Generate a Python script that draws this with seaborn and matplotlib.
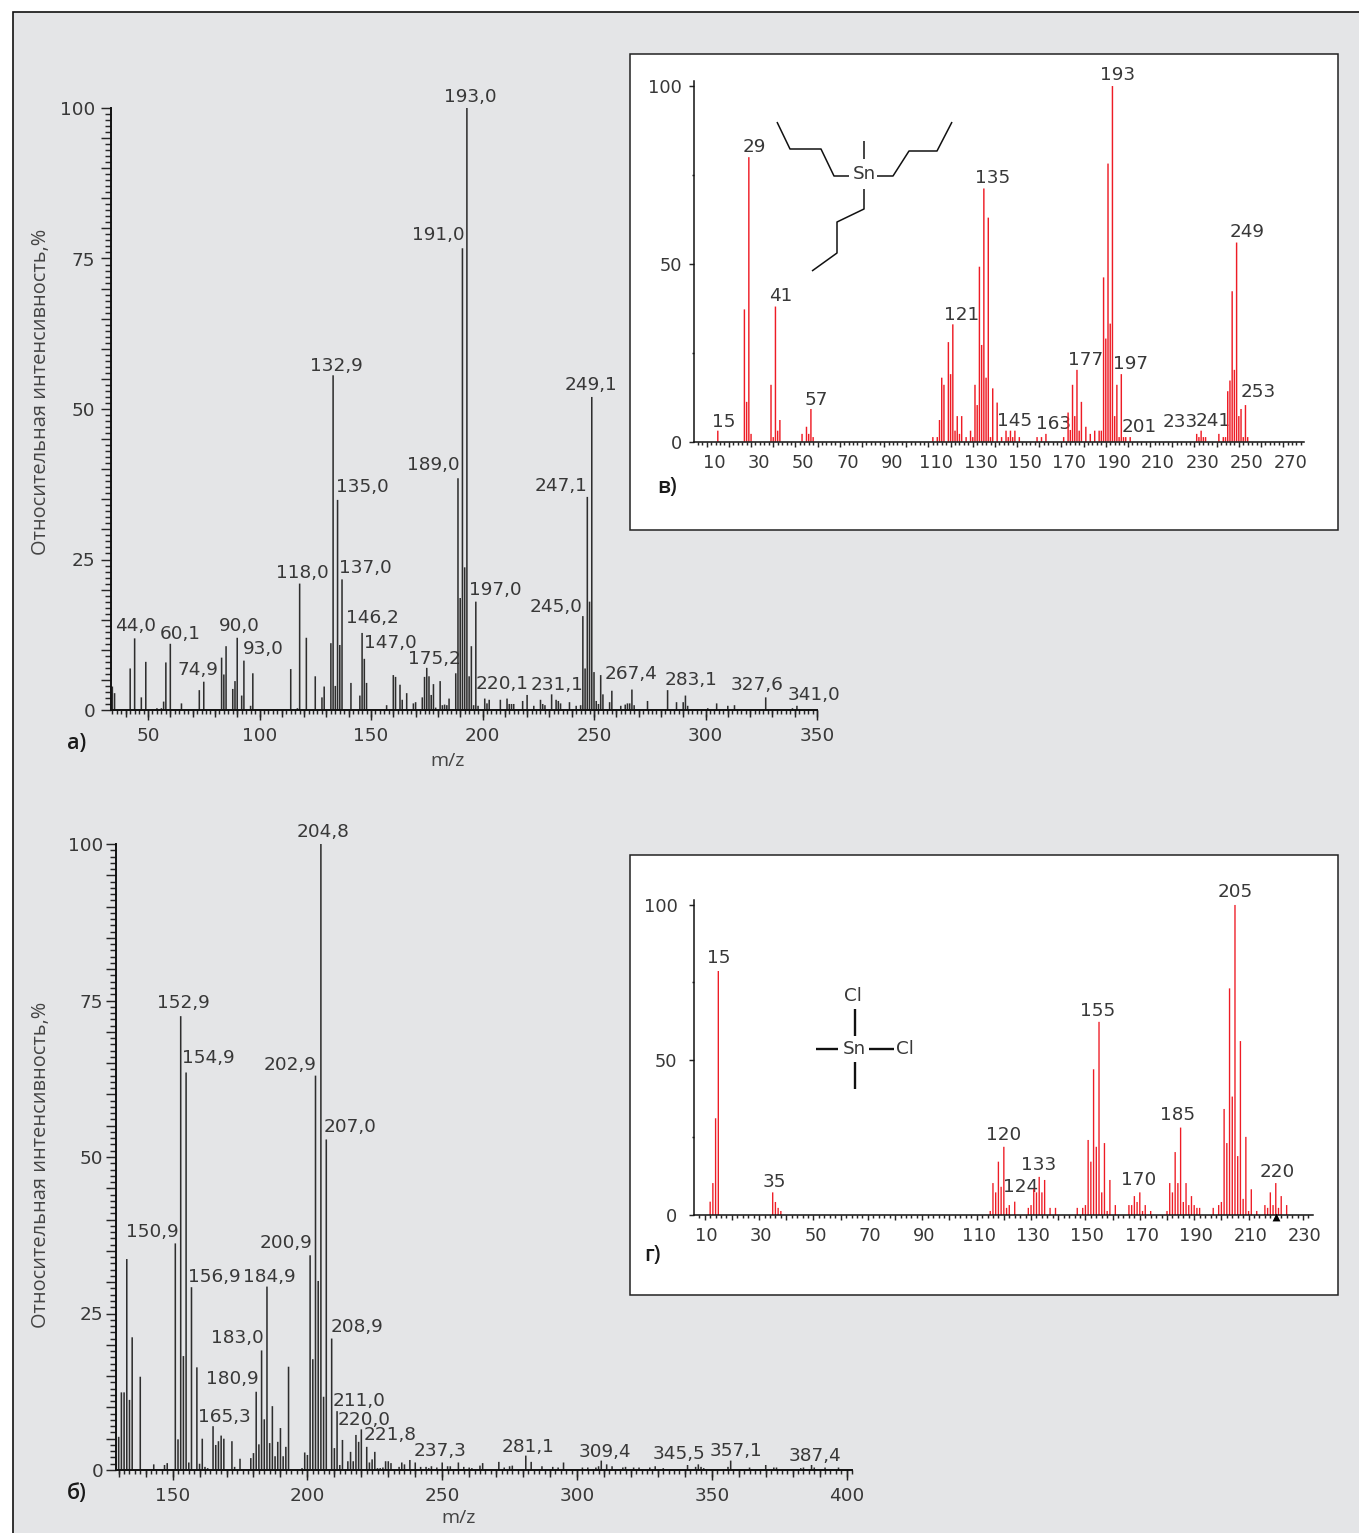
"""Mass spectra of tributyltin and dimethyltin compounds, four panels."""

from matplotlib import pyplot as plt
from matplotlib.patches import Rectangle
from matplotlib.ticker import FixedLocator, MultipleLocator
from matplotlib.transforms import ScaledTranslation
import seaborn as sns

WIDTH, HEIGHT = 1359, 1533

# panel a) measured spectrum
a_mz = [34, 35, 42, 44, 47, 49, 54, 56, 57, 58, 60, 65, 73, 75, 83, 84, 85, 88, 89, 90,
        92, 93, 96, 97, 114, 117, 118, 121, 125, 128, 129, 132, 133, 134, 135, 136, 137,
        141, 145, 146, 147, 148, 157, 160, 161, 163, 164, 166, 169, 170, 173, 174, 175,
        176, 177, 178, 179, 181, 182, 183, 184, 185, 188, 189, 190, 191, 192, 193, 194,
        195, 196, 197, 198, 201, 202, 203, 208, 211, 212, 213, 214, 218, 220, 223, 226,
        227, 228, 231, 233, 234, 235, 239, 242, 244, 245, 246, 247, 248, 249, 250, 251,
        252, 253, 254, 257, 258, 262, 264, 265, 266, 267, 268, 274, 283, 287, 290, 291,
        292, 301, 305, 310, 313, 327, 339, 341]
a_int = [3.9, 2.8, 6.9, 11.9, 2.1, 8, 0.3, 0.3, 1.4, 7.9, 11, 1.1, 3.3, 4.7, 8.7, 5.9, 10.6,
         3.5, 4.8, 12, 2.4, 8.2, 0.7, 6.1, 6.8, 0.3, 21, 12, 5.6, 2.1, 3.9, 11.1, 55.6, 4,
         34.9, 10.8, 21.7, 4.5, 2.4, 12.8, 8.5, 4.5, 0.8, 5.8, 5.5, 4.2, 1.7, 2.8, 1.1, 1.3,
         2.1, 5.5, 7, 5.6, 2.5, 4.3, 0.4, 4.8, 0.8, 0.9, 0.8, 1.9, 6.1, 38.5, 18.6, 76.7,
         23.7, 100, 5.6, 10.6, 0.8, 18, 0.7, 1.9, 1.1, 1.7, 1.7, 1.9, 1, 1, 1, 1.5, 2.5,
         0.7, 1.7, 1, 0.8, 2.6, 1.7, 1.5, 1.1, 1.3, 0.7, 0.8, 15.6, 6.9, 35.4, 18, 52, 6.3,
         1.5, 1, 5.8, 2.6, 1.3, 3.2, 0.7, 0.9, 1.1, 1.1, 3.4, 0.8, 1.5, 3.3, 1.3, 1.3, 2.4,
         0.7, 0.3, 1.1, 0.7, 0.8, 2.1, 0.3, 0.7]
a_labels = ["193,0", "191,0", "132,9", "249,1", "135,0", "189,0", "247,1", "118,0", "137,0",
            "245,0", "197,0", "146,2", "147,0", "44,0", "60,1", "90,0", "93,0", "74,9",
            "175,2", "220,1", "231,1", "267,4", "283,1", "327,6", "341,0"]
a_label_px = [(470, 97), (438, 235), (336, 366), (591, 385), (362, 487), (433, 465), (561, 486),
              (302, 573), (365, 568), (556, 607), (495, 590), (372, 618), (390, 643), (136, 626),
              (180, 634), (239, 626), (263, 649), (198, 670), (434, 659), (502, 684), (557, 685),
              (631, 674), (691, 680), (757, 685), (814, 695)]

# panel b) measured spectrum
b_mz = [130, 131, 132, 133, 134, 135, 138, 143, 147, 148, 151, 152, 153, 154, 155, 156, 157,
        159, 160, 161, 162, 163, 165, 166, 167, 168, 169, 172, 173, 175, 179, 180, 181, 182,
        183, 184, 185, 186, 187, 188, 189, 190, 191, 192, 193, 198, 199, 200, 201, 202, 203,
        204, 205, 206, 207, 209, 210, 211, 212, 213, 215, 216, 217, 218, 219, 220, 222, 223,
        224, 225, 226, 227, 228, 229, 230, 231, 234, 235, 236, 238, 240, 242, 244, 245, 246,
        248, 250, 252, 253, 256, 258, 260, 261, 264, 265, 271, 273, 275, 276, 281, 283, 287,
        291, 293, 295, 302, 304, 307, 308, 309, 311, 313, 317, 318, 321, 323, 327, 329, 332,
        341, 344, 345, 346, 347, 356, 357, 364, 370, 373, 374, 383, 384, 387, 388, 392, 397]
b_int = [5.3, 12.4, 12.4, 33.7, 11.2, 21.2, 14.9, 0.9, 0.8, 1.1, 36.2, 4.9, 72.5, 18.2, 63.5,
         1.2, 29.2, 16.4, 1, 5, 0.5, 0.3, 7, 4, 4.6, 5.5, 5, 4.6, 0.5, 1.8, 1.9, 2.7, 12.5,
         4.1, 19.1, 8.1, 29.3, 4.3, 10.2, 2.2, 4.5, 6.7, 2.2, 3.7, 16.5, 0.3, 2.8, 2.4, 34.3,
         17.7, 63, 30.2, 100, 11.7, 52.8, 21, 3.5, 9.4, 0.8, 4.8, 1.4, 2.9, 1.4, 5.6, 4.5,
         6.5, 3.7, 1.2, 1.7, 2.9, 0.3, 0.3, 0.4, 1.4, 1.4, 1.1, 0.5, 1.2, 0.9, 1.6, 1.2, 0.5,
         0.5, 0.3, 0.6, 0.4, 1.2, 0.6, 0.6, 1.2, 0.5, 0.4, 0.3, 0.7, 1.1, 1.3, 0.4, 0.6, 0.7,
         2.3, 1.3, 0.6, 0.5, 0.4, 1.2, 0.4, 0.4, 0.4, 0.6, 1.5, 0.9, 0.6, 0.4, 0.5, 0.4, 0.4,
         0.4, 0.6, 0.3, 0.8, 0.5, 0.9, 0.5, 0.3, 0.5, 1.5, 0.4, 0.8, 0.4, 0.4, 0.3, 0.4, 0.8,
         0.4, 0.4, 0.4]
b_labels = ["204,8", "152,9", "154,9", "202,9", "207,0", "150,9", "200,9", "156,9", "184,9",
            "208,9", "183,0", "180,9", "211,0", "165,3", "220,0", "221,8", "237,3", "281,1",
            "309,4", "345,5", "357,1", "387,4"]
b_label_px = [(323, 832), (183, 1003), (208, 1058), (290, 1065), (350, 1127), (152, 1232),
              (286, 1243), (214, 1277), (269, 1277), (357, 1327), (237, 1338), (232, 1379),
              (359, 1401), (224, 1417), (364, 1420), (390, 1435), (440, 1451), (528, 1447),
              (605, 1452), (679, 1454), (736, 1451), (815, 1456)]

# panel v) library spectrum, tributyltin
c_mz = [15, 27, 28, 29, 30, 39, 40, 41, 42, 43, 53, 55, 56, 57, 58, 112, 114, 115, 116, 117,
        119, 120, 121, 122, 123, 124, 125, 127, 129, 130, 131, 132, 133, 134, 135, 136, 137,
        138, 139, 141, 143, 145, 146, 147, 148, 149, 151, 159, 161, 163, 171, 173, 174, 175,
        176, 177, 178, 179, 181, 183, 185, 187, 188, 189, 190, 191, 192, 193, 194, 195, 196,
        197, 198, 199, 201, 231, 232, 233, 234, 235, 241, 243, 244, 245, 246, 247, 248, 249,
        250, 251, 252, 253, 254]
c_int = [3.1, 37.2, 11.2, 80, 2.2, 16, 1.3, 38, 3.1, 6.1, 2.2, 4.2, 2.2, 9.2, 1.3, 1.3, 1.3,
         6.1, 18, 16, 28, 19, 33, 3.1, 7.2, 2.2, 7.2, 1.3, 3.1, 1.3, 16, 10.3, 49.2, 27.2,
         71.2, 18, 63, 1.3, 15, 11, 1.3, 3.1, 1.3, 3.1, 1.3, 3.1, 1.3, 1.3, 1.3, 2.2, 1.3,
         8.2, 3.3, 16, 7.2, 20.2, 3.1, 11.2, 4.2, 2.2, 3.1, 3.1, 3.1, 46.2, 29, 78.2, 33.2,
         100, 7.2, 16, 1.3, 19, 1.3, 1.3, 1.3, 2.2, 1.3, 3.1, 1.3, 1.3, 2.2, 1.3, 1.3, 14.2,
         17.2, 42.3, 20.2, 56, 7.2, 9.2, 1.3, 10.3, 1.3]
c_labels = ["193", "29", "135", "249", "41", "121", "177", "197", "57", "253", "15", "145",
            "163", "201", "233", "241"]
c_label_px = [(1118, 75), (754, 147), (993, 178), (1247, 232), (781, 296), (962, 315), (1086, 360),
              (1131, 364), (816, 400), (1258, 392), (724, 422), (1015, 421), (1054, 424),
              (1139, 427), (1180, 422), (1213, 421)]

# panel g) library spectrum, trichloromethyltin
d_mz = [12, 13, 14, 15, 35, 36, 37, 38, 115, 116, 117, 118, 119, 120, 121, 122, 124, 129, 130,
        131, 132, 133, 134, 135, 137, 139, 147, 149, 150, 151, 152, 153, 154, 155, 156, 157,
        158, 159, 161, 166, 167, 168, 169, 170, 171, 172, 174, 180, 181, 182, 183, 184, 185,
        186, 187, 188, 189, 190, 191, 192, 197, 199, 200, 201, 202, 203, 204, 205, 206, 207,
        208, 209, 210, 211, 213, 216, 217, 218, 219, 220, 221, 222, 224]
d_int = [4.3, 10.3, 31.2, 78.7, 7.3, 4.2, 2.3, 1.3, 1.3, 10.3, 7.3, 17.2, 9.1, 22, 2.3, 3.2,
         4.3, 2.3, 3.2, 8.4, 7.3, 12.3, 7.3, 11.3, 2.3, 2.3, 2.3, 2.3, 3.2, 24.2, 17.2, 47,
         22, 62.3, 7.3, 23.2, 1.3, 11.3, 3.2, 3.2, 3.2, 6.1, 4.2, 7.3, 1.3, 3.2, 1.3, 1.3,
         10.3, 7.3, 20.3, 10.3, 28.2, 4.2, 10.3, 3.2, 6.1, 3.2, 2.3, 2.3, 2.3, 3.2, 4.2, 34.2,
         23.2, 73.1, 38.2, 100, 19, 56.1, 5.2, 25.2, 1.3, 8.3, 1.3, 3.2, 2.3, 7.3, 3.2, 10.3,
         2.3, 6.1, 3.2]
d_labels = ["205", "15", "155", "120", "185", "133", "170", "124", "35", "220"]
d_label_px = [(1235, 892), (719, 958), (1098, 1011), (1004, 1135), (1178, 1115), (1039, 1165),
              (1139, 1180), (1021, 1187), (774, 1182), (1277, 1172)]
d_marker_mz = [220]
d_marker_y = [-0.8]

# structure formulas, drawn in picture pixels
tributyl_chains = [
    [(777, 122), (790, 149), (821, 149), (834, 176), (849, 176)],
    [(864, 141), (864, 159)],
    [(877, 176), (893, 176), (909, 151), (937, 151), (952, 122)],
    [(864, 189), (864, 209), (837, 222), (837, 253), (812, 271)],
]
chloride_bonds = [
    [(855, 1009), (855, 1036)],
    [(816, 1049), (838, 1049)],
    [(869, 1049), (894, 1049)],
    [(855, 1062), (855, 1089)],
]

BACKGROUND = "#e4e5e7"
BLACK_BAR = "#2e2e2e"
RED_BAR = "#ee1c25"
TEXT = "#383838"
NUM_SIZE = 13.3
INSET_NUM_SIZE = 12.8
SANS = "Open Sans"
TICK_WIDTH = 1.05


def add_panel(fig, box, xlim, ylim, mz, intensity, color, bar_width):
    """Adds axes at a pixel box (left, right, top, bottom) and draws the bar spectrum."""
    left, right, top, bottom = box
    ax = fig.add_axes([left / WIDTH, 1 - bottom / HEIGHT, (right - left) / WIDTH, (bottom - top) / HEIGHT])
    ax.patch.set_alpha(0)
    sns.barplot(x=mz, y=intensity, color=color, width=bar_width, linewidth=0, saturation=1,
                native_scale=True, errorbar=None, ax=ax)
    for bar in ax.patches:
        bar.set_snap(False)  # keeps thin bars at one width instead of 1 or 2 pixels
    ax.set_xlim(*xlim)
    ax.set_ylim(*ylim)
    ax.set_xlabel("")
    ax.set_ylabel("")
    sns.despine(ax=ax)
    ax.spines[["left", "bottom"]].set_linewidth(1.4)
    ax.spines[["left", "bottom"]].set_color("#111111")
    return ax


def style_main_axis(ax, xticks, size, y_pad):
    """Long ticks on labelled m/z, medium each 10, short each 2; y ticks each 5 and 1."""
    ax.set_xticks(xticks, [str(v) for v in xticks])
    ax.xaxis.set_minor_locator(MultipleLocator(2))
    ax.tick_params(axis="x", which="major", length=7, width=TICK_WIDTH, pad=5, labelsize=size, labelcolor=TEXT)
    ax.tick_params(axis="x", which="minor", length=2.6, width=TICK_WIDTH)

    sec = ax.secondary_xaxis("bottom")
    sec.xaxis.set_major_locator(MultipleLocator(10))
    sec.tick_params(axis="x", length=5, width=TICK_WIDTH, labelbottom=False)
    sec.spines["bottom"].set_visible(False)

    y_major = list(range(0, 101, 5))
    ax.set_yticks(y_major, [str(v) if v % 25 == 0 else "" for v in y_major])
    ax.yaxis.set_minor_locator(MultipleLocator(1))
    ax.tick_params(axis="y", which="major", length=7.5, width=TICK_WIDTH, pad=y_pad, labelsize=size, labelcolor=TEXT)
    ax.tick_params(axis="y", which="minor", length=4.6, width=TICK_WIDTH)


def style_inset_axis(ax, first_tick, last_tick, label_shift, y_pad):
    """Inset axes: ticks each 10, labels each 20 nudged right of their ticks."""
    ticks = list(range(first_tick, last_tick + 1, 10))
    ax.set_xticks(ticks, [str(v) if (v - first_tick) % 20 == 0 else "" for v in ticks])
    ax.xaxis.set_minor_locator(MultipleLocator(2))
    ax.tick_params(axis="x", which="major", length=3.6, width=TICK_WIDTH, pad=5, labelsize=INSET_NUM_SIZE, labelcolor=TEXT)
    ax.tick_params(axis="x", which="minor", length=2, width=TICK_WIDTH)
    shift = ScaledTranslation(label_shift / 100, 0, ax.figure.dpi_scale_trans)
    for label in ax.get_xticklabels():
        label.set_transform(label.get_transform() + shift)

    ax.set_yticks([0, 50, 100])
    ax.yaxis.set_minor_locator(FixedLocator([25, 75]))
    ax.tick_params(axis="y", which="major", length=3.6, width=TICK_WIDTH, pad=y_pad, labelsize=INSET_NUM_SIZE, labelcolor=TEXT)
    ax.tick_params(axis="y", which="minor", length=1.6, width=TICK_WIDTH)
    ax.spines[["left", "bottom"]].set_linewidth(1.1)


def put_labels(canvas, labels, positions, size):
    for label, (x, y) in zip(labels, positions):
        canvas.text(x, y, label, ha="center", va="center", fontsize=size, color=TEXT)


def draw_lines(canvas, lines, width):
    for line in lines:
        xs, ys = zip(*line)
        canvas.plot(xs, ys, color="#111111", linewidth=width, solid_capstyle="butt")


def main() -> None:
    sns.set_style("ticks")
    plt.rcParams["font.family"] = "DejaVu Sans"
    fig = plt.figure(figsize=(WIDTH / 100, HEIGHT / 100), dpi=100, facecolor="white")

    # one axes in picture pixels for the page, the frames, the texts and the formulas
    canvas = fig.add_axes([0, 0, 1, 1], zorder=0)
    canvas.set_xlim(0, WIDTH)
    canvas.set_ylim(HEIGHT, 0)
    canvas.axis("off")
    canvas.add_patch(Rectangle((12.5, 12), WIDTH + 10, HEIGHT + 10, facecolor=BACKGROUND,
                               edgecolor="#111111", linewidth=1.2))
    canvas.add_patch(Rectangle((629.5, 54), 708.5, 476, facecolor="white", edgecolor="#222222", linewidth=1.1))
    canvas.add_patch(Rectangle((629.5, 855), 708.5, 440, facecolor="white", edgecolor="#222222", linewidth=1.1))

    ax_a = add_panel(fig, (111, 817, 108, 710), (33.4, 350), (0, 100), a_mz, a_int, BLACK_BAR, 0.7)
    style_main_axis(ax_a, [50, 100, 150, 200, 250, 300, 350], NUM_SIZE, 4)
    ax_b = add_panel(fig, (116, 852, 844, 1470), (129, 402), (0, 100), b_mz, b_int, BLACK_BAR, 0.58)
    style_main_axis(ax_b, [150, 200, 250, 300, 350, 400], NUM_SIZE, 1.8)
    ax_c = add_panel(fig, (694.3, 1304, 80.7, 441.7), (4.4, 279.4), (0, 101.5), c_mz, c_int, RED_BAR, 0.65)
    style_inset_axis(ax_c, 10, 270, 8, 5)
    ax_d = add_panel(fig, (694.3, 1313.3, 900, 1215), (6.17, 233.8), (0, 101.6), d_mz, d_int, RED_BAR, 0.5)
    style_inset_axis(ax_d, 10, 230, 2, 8.5)
    sns.scatterplot(x=d_marker_mz, y=d_marker_y, marker="^", s=32, color="black", linewidth=0,
                    clip_on=False, zorder=5, ax=ax_d)
    ax_d.set_ylim(0, 101.6)

    put_labels(canvas, a_labels, a_label_px, NUM_SIZE)
    put_labels(canvas, b_labels, b_label_px, NUM_SIZE)
    put_labels(canvas, c_labels, c_label_px, 13.2)
    put_labels(canvas, d_labels, d_label_px, 13.2)

    for y in (392, 1165):
        canvas.text(41, y, "Относительная интенсивность,%", rotation=90, ha="center", va="center",
                    family=SANS, fontsize=14.4, color="#444444")
    canvas.text(448, 761, "m/z", ha="center", va="center", family=SANS, fontsize=14, color="#444444")
    canvas.text(459, 1518, "m/z", ha="center", va="center", family=SANS, fontsize=14, color="#444444")
    for x, y, letter in [(77, 744, "а)"), (77, 1493, "б)"), (667, 488, "в)"), (652, 1255, "г)")]:
        canvas.text(x, y, letter, ha="center", va="center", family=SANS, fontsize=15.5, weight=600, color="#1a1a1a")

    draw_lines(canvas, tributyl_chains, 1.1)
    draw_lines(canvas, chloride_bonds, 1.7)
    canvas.text(864, 174, "Sn", ha="center", va="center", fontsize=13.2, color=TEXT)
    canvas.text(854, 1049, "Sn", ha="center", va="center", fontsize=13.2, color=TEXT)
    canvas.text(853, 996, "Cl", ha="center", va="center", fontsize=13.2, color=TEXT)
    canvas.text(905, 1049, "Cl", ha="center", va="center", fontsize=13.2, color=TEXT)

    fig.savefig("out.png", dpi=100)


main()
